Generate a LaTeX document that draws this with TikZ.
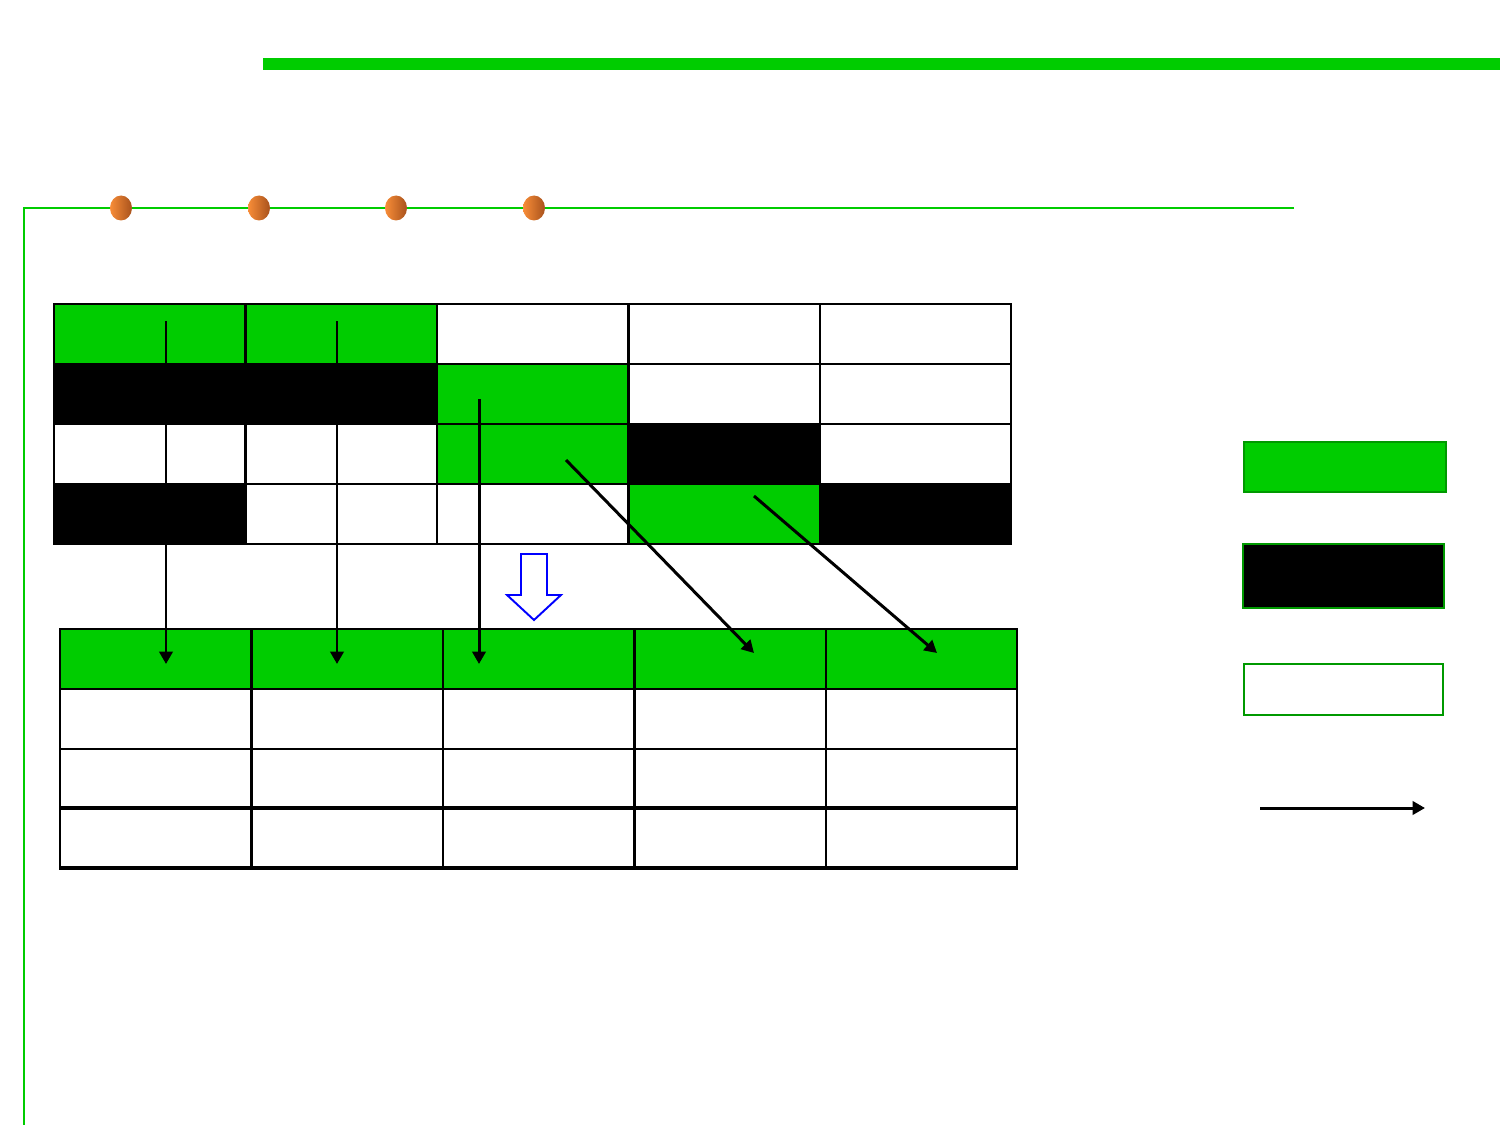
\documentclass[tikz,border=0pt]{standalone}
\usetikzlibrary{arrows.meta}
\definecolor{tg}{HTML}{00CC00}
\definecolor{tdg}{HTML}{009900}
\definecolor{orA}{HTML}{F88D38}
\definecolor{orB}{HTML}{A8521C}
\definecolor{tblue}{HTML}{0000FF}
\tikzset{
  cell/.style={draw=black, line width=1.4pt, anchor=north west, inner sep=0pt, minimum width=3.828cm, minimum height=1.2cm},
  flow/.style={line width=1.7pt, -{Triangle[length=7pt,width=7.5pt]}},
  legbox/.style={draw=tdg, line width=1.2pt, anchor=north west, inner sep=0pt},
  frame/.style={draw=tg, line width=1.1pt},
  dot/.style={left color=orA, right color=orB}
}
\begin{document}
\begin{tikzpicture}[x=0.02cm, y=-0.02cm]
\useasboundingbox (0,0) rectangle (1500,1125);
% top bar and frame
\fill[tg] (263,58) rectangle (1500,70);
\draw[frame] (1294,208) -- (24,208) -- (24,1125);
\foreach \x in {121,259,396,534}
  \shade[dot] (\x,208) ellipse (11 and 12.5);
% top table
\foreach \r/\a/\b/\c/\d/\e in {1/tg/tg/white/white/white, 2/black/black/tg/white/white, 3/white/white/tg/black/white, 4/black/white/white/tg/black}
  \foreach \k/\f in {1/\a,2/\b,3/\c,4/\d,5/\e}
    \node[cell, fill=\f] (t\r\k) at ({53+(\k-1)*191.4},{303+(\r-1)*60}) {};
% bottom table
\foreach \r/\f in {1/tg,2/white,3/white,4/white}
  \foreach \k in {1,...,5}
    \node[cell, fill=\f] (b\r\k) at ({59+(\k-1)*191.4},{628+(\r-1)*60}) {};
\draw[line width=2pt] (59,808) -- (1016,808);
\draw[line width=2pt] (59,868) -- (1016,868);
% arrows
\coordinate (s1) at (166,321); \coordinate (e1) at (166,664);
\coordinate (s2) at (337,321); \coordinate (e2) at (337,664);
\coordinate (s3) at (479,399); \coordinate (e3) at (479,664);
\coordinate (s4) at (566,460); \coordinate (e4) at (754,653);
\coordinate (s5) at (754,496); \coordinate (e5) at (937,653);
\draw[flow] (s1) -- (e1);
\draw[flow] (s2) -- (e2);
\draw[flow] (s3) -- (e3);
\draw[flow] (s4) -- (e4);
\draw[flow] (s5) -- (e5);
% blue hollow arrow
\draw[tblue, fill=white, line width=1.1pt] (521,554) -- (547,554) -- (547,595) -- (561,595) -- (534,620) -- (507,595) -- (521,595) -- cycle;
% legend
\node[legbox, fill=tg, minimum width=4.04cm, minimum height=1.0cm] (lg) at (1243,441) {};
\node[legbox, fill=black, minimum width=4.02cm, minimum height=1.28cm] (lb) at (1242,543) {};
\node[legbox, fill=white, minimum width=3.98cm, minimum height=1.02cm] (lw) at (1243,663) {};
\coordinate (la) at (1260,808); \coordinate (lz) at (1425,808);
\draw[flow] (la) -- (lz);
\end{tikzpicture}
\end{document}
